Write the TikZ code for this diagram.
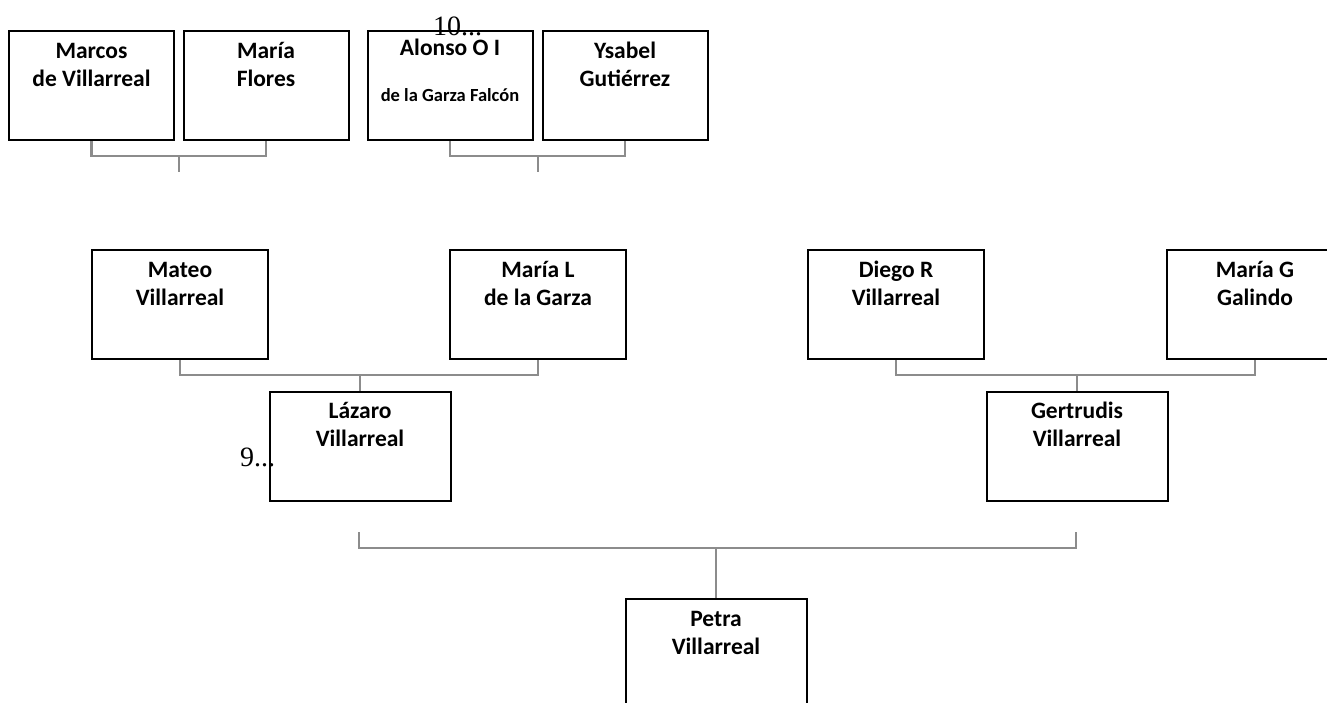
\documentclass[tikz,border=0pt]{standalone}
\usepackage{fontspec}
\setmainfont{Carlito}
\newfontfamily\numfont{Liberation Serif}
\definecolor{linea}{RGB}{140,140,140}
\begin{document}
\begin{tikzpicture}[x=1pt,y=-1pt,
    box/.style={draw,line width=2pt,minimum height=109,inner sep=0pt},
    who/.style={anchor=base,align=center,inner sep=0pt,
      font=\bfseries\fontsize{23.5}{28}\selectfont},
    small/.style={who,font=\bfseries\fontsize{18.5}{22}\selectfont},
    num/.style={anchor=base west,inner sep=0pt,
      font=\numfont\fontsize{28}{28}\selectfont},
    link/.style={draw=linea,line width=2.2pt}]
  \fill[white] (0,0) rectangle (1327,702);
  \clip (0,0) rectangle (1327,702);
  % Прадеды
  \foreach \id/\x/\txt in {marcos/91.5/{Marcos\\de Villarreal},
      mariaf/266/{María\\Flores},ysabel/625/{Ysabel\\Gutiérrez}}{
    \node[box,minimum width=165] (\id) at (\x,85.5) {};
    \node[who] (\id-n) at ([yshift=-56pt]\id.north) {\txt};}
  \node[box,minimum width=165] (alonso) at (450,85.5) {};
  \node[who] (alonso-n) at ([yshift=-25pt]alonso.north) {Alonso O I};
  \node[small] (alonso-m) at ([yshift=-71pt]alonso.north) {de la Garza Falcón};
  \node[num] (diez) at (433,35) {10...};
  \coordinate (bar1) at (179,156);
  \coordinate (stem1) at (179,172);
  \coordinate (bar2) at (538,156);
  \coordinate (stem2) at (538,172);
  \draw[link] (marcos.south) |- (bar1) -| (mariaf.south);
  \draw[link] (bar1) -- (stem1);
  \draw[link] (alonso.south) |- (bar2) -| (ysabel.south);
  \draw[link] (bar2) -- (stem2);
  % Деды
  \foreach \id/\x/\txt in {mateo/180/{Mateo\\Villarreal},
      marial/538/{María L\\de la Garza},diego/896/{Diego R\\Villarreal},
      mariag/1255/{María G\\Galindo}}{
    \node[box,minimum width=176] (\id) at (\x,304.5) {};
    \node[who] (\id-n) at ([yshift=-56pt]\id.north) {\txt};}
  % Родители
  \foreach \id/\x/\txt in {lazaro/360/{Lázaro\\Villarreal},
      gertrudis/1077/{Gertrudis\\Villarreal}}{
    \node[box,minimum width=181] (\id) at (\x,446.5) {};
    \node[who] (\id-n) at ([yshift=-55.5pt]\id.north) {\txt};}
  \node[num] (nueve) at (240,466) {9...};
  \coordinate (bar3) at (360,375);
  \coordinate (bar4) at (1077,375);
  \draw[link] (mateo.south) |- (bar3) -| (marial.south);
  \draw[link] (bar3) -- (lazaro.north);
  \draw[link] (diego.south) |- (bar4) -| (mariag.south);
  \draw[link] (bar4) -- (gertrudis.north);
  % Петра
  \node[box,minimum width=181,minimum height=150] (petra) at (716,674) {};
  \node[who] (petra-n) at ([yshift=-56pt]petra.north) {Petra\\Villarreal};
  \coordinate (l5) at (359,532);
  \coordinate (r5) at (1076,532);
  \coordinate (bar5) at (716,548);
  \draw[link] (l5) |- (bar5) -| (r5);
  \draw[link] (bar5) -- (petra.north);
\end{tikzpicture}
\end{document}
